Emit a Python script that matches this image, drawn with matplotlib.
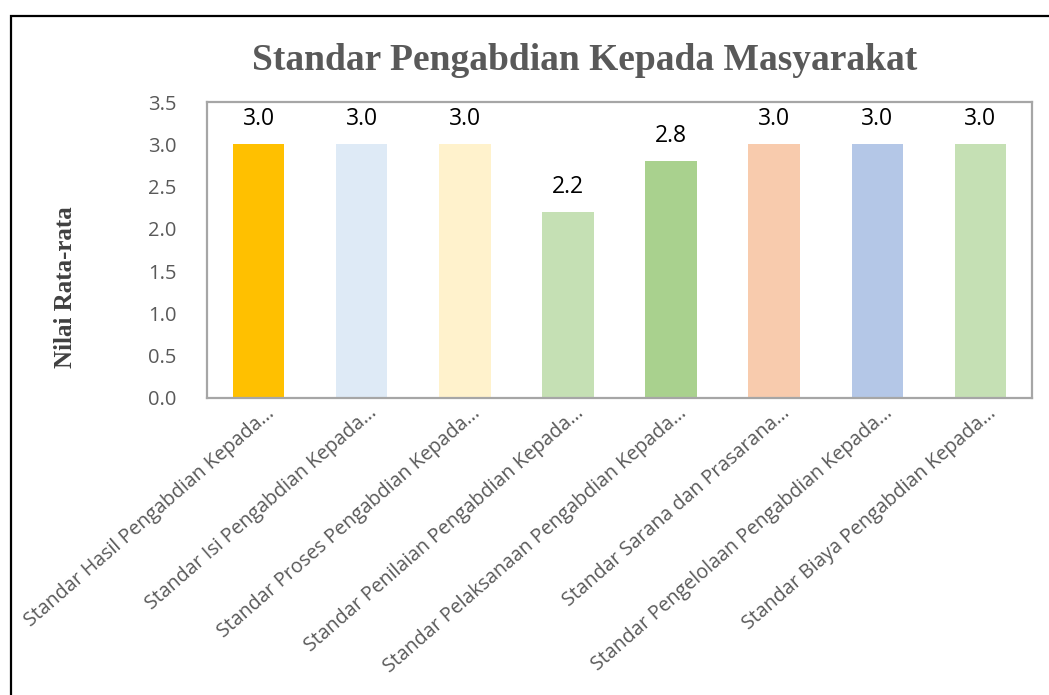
import matplotlib
matplotlib.use("Agg")
import matplotlib.pyplot as plt
from matplotlib.patches import Rectangle
from matplotlib.transforms import ScaledTranslation

categories = [
    "Standar Hasil Pengabdian Kepada...",
    "Standar Isi Pengabdian Kepada...",
    "Standar Proses Pengabdian Kepada...",
    "Standar Penilaian Pengabdian Kepada...",
    "Standar Pelaksanaan Pengabdian Kepada...",
    "Standar Sarana dan Prasarana...",
    "Standar Pengelolaan Pengabdian Kepada...",
    "Standar Biaya Pengabdian Kepada...",
]
values = [3.0, 3.0, 3.0, 2.2, 2.8, 3.0, 3.0, 3.0]
colors = ["#FFC000", "#DEEAF6", "#FFF2CC", "#C5E0B4", "#A9D18E", "#F8CBAD", "#B4C7E7", "#C5E0B4"]
yticks = [0.0, 0.5, 1.0, 1.5, 2.0, 2.5, 3.0, 3.5]
title = "Standar Pengabdian Kepada Masyarakat"
ylabel = "Nilai Rata-rata"

W, H = 1049, 695
fig = plt.figure(figsize=(W / 100, H / 100), dpi=100)
ax = fig.add_axes([207 / W, 1 - 398 / H, (1032 - 207) / W, (398 - 102) / H])

x = list(range(len(categories)))
bars = ax.bar(x, values, width=0.5, color=colors)
ax.set_xlim(-0.5, len(categories) - 0.5)
ax.set_ylim(0, 3.5)
ax.set_yticks(yticks)
ax.set_yticklabels([f"{v:.1f}" for v in yticks], fontfamily="Open Sans", fontsize=14.5, color="#595959")
ax.set_xticks(x)
ax.set_xticklabels(categories, rotation=41, ha="right", va="center", rotation_mode="anchor",
                   fontfamily="Open Sans", fontsize=14.1, color="#595959")
ax.tick_params(length=0)
ax.tick_params(axis="x", pad=9)
ax.tick_params(axis="y", pad=22)
offset = ScaledTranslation(13 / 100, 0, fig.dpi_scale_trans)
for lbl in ax.get_xticklabels():
    lbl.set_transform(lbl.get_transform() + offset)
for s in ax.spines.values():
    s.set_color("#A6A6A6")
    s.set_linewidth(1.6)

for xi, v in zip(x, values):
    ax.annotate(f"{v:.1f}", (xi, v), xytext=(0, 18), textcoords="offset points",
                ha="center", va="center", fontfamily="Open Sans", fontsize=16.5, color="#000000")

fig.text((253 + 917) / 2 / W, 1 - 60 / H, title, ha="center", va="center",
         fontfamily="Liberation Serif", fontweight="bold", fontsize=27, color="#595959")
fig.text(66 / W, 1 - 287 / H, ylabel, ha="center", va="center", rotation=90,
         fontfamily="Liberation Serif", fontweight="bold", fontsize=18, color="#404040")

frame = Rectangle((10.5 / W, -0.1), 1.2, 1 - 15.5 / H + 0.1, transform=fig.transFigure,
                  fill=False, edgecolor="#000000", linewidth=1.6, clip_on=False)
fig.add_artist(frame)

fig.savefig("out.png", dpi=100)
